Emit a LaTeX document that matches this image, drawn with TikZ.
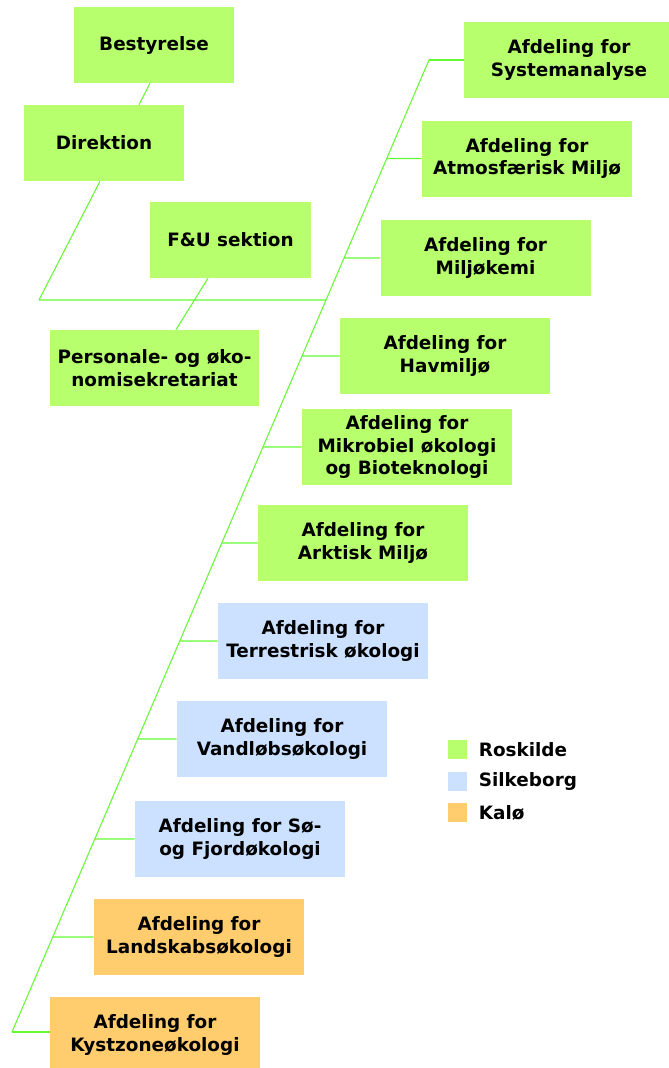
\documentclass[tikz,border=0pt]{standalone}
\usepackage{fontspec}
\setmainfont{DejaVu Sans}
\usetikzlibrary{positioning}
\usetikzlibrary{calc}

\definecolor{roskilde}{HTML}{B8FF6E}
\definecolor{silkeborg}{HTML}{CCE0FF}
\definecolor{kalo}{HTML}{FFCC6E}
\definecolor{linegreen}{HTML}{66F933}

\begin{document}
\begin{tikzpicture}[
      x = 0.75pt, y = -0.75pt,
      font = \bfseries\fontsize{13.8}{16.7}\selectfont,
      unit/.style = {
        align = center, inner sep = 0pt,
        minimum width = 157.5pt, minimum height = 57pt
      },
      narrow/.style = { minimum width = 120pt },
      ros/.style = { fill = roskilde },
      silk/.style = { fill = silkeborg },
      kal/.style = { fill = kalo },
      branch/.style = { draw = linegreen, line width = 0.8pt },
      legend/.style = { minimum size = 14.25pt, inner sep = 0pt },
    ]

    \useasboundingbox (0,0) rectangle (668,1068);

    % ledelse
    \node[unit, narrow, ros] (Best) at (154, 45) {Bestyrelse};
    \node[unit, narrow, ros] (Dir)  at (104,143) {Direktion};
    \node[unit, narrow, ros, minimum width = 120.75pt] (FU) at (230.5,240) {F\&U sektion};
    \node[unit, ros, minimum width = 156.75pt] (PO) at (154.5,368) {Personale- og øko-\\nomisekretariat};

    % afdelinger
    \node[unit, ros]  (A1)  at (569,  60) {Afdeling for\\Systemanalyse};
    \node[unit, ros]  (A2)  at (527, 158.5) {Afdeling for\\Atmosfærisk Miljø};
    \node[unit, ros]  (A3)  at (485.5,258) {Afdeling for\\Miljøkemi};
    \node[unit, ros]  (A4)  at (445, 356) {Afdeling for\\Havmiljø};
    \node[unit, ros]  (A5)  at (407, 447) {Afdeling for\\Mikrobiel økologi\\og Bioteknologi};
    \node[unit, ros]  (A6)  at (363, 543) {Afdeling for\\Arktisk Miljø};
    \node[unit, silk] (A7)  at (323, 641) {Afdeling for\\Terrestrisk økologi};
    \node[unit, silk] (A8)  at (282, 739) {Afdeling for\\Vandløbsøkologi};
    \node[unit, silk] (A9)  at (240, 839) {Afdeling for Sø-\\og Fjordøkologi};
    \node[unit, kal]  (A10) at (199, 937) {Afdeling for\\Landskabsøkologi};
    \node[unit, kal]  (A11) at (155,1035) {Afdeling for\\Kystzoneøkologi};

    % stamme
    \coordinate (T) at (429,  60);
    \coordinate (B) at ( 12,1032);
    \coordinate (H) at ( 39, 300);
    \coordinate (J) at ($(T)!{240/972}!(B)$);

    \draw[branch] (T) to (B);
    \draw[branch] (H) to (J);
    \draw[branch] ([xshift=-3pt]Dir.south) to (H);
    \draw[branch] ([xshift=-3pt]Best.south) to ([xshift=26.25pt]Dir.north);
    \draw[branch] ([xshift=-16.9pt]FU.south) to ([xshift=16.1pt]PO.north);
    \draw[branch] (T) to (A1.west);
    \draw[branch] (B) to ([yshift=2.25pt]A11.west);

    \foreach \d in {A2, A3, A4, A5, A6, A7, A8, A9, A10} {
      \draw[branch] (\d.west) to (intersection of T--B and \d.west--\d.east);
    }

    % signatur
    \node[legend, ros]  (L1) at (457.5,749.5) {};
    \node[legend, silk] (L2) at (457.5,781.5) {};
    \node[legend, kal]  (L3) at (457.5,812.5) {};
    \begin{scope}[node distance = 8.5pt]
      \node[inner sep = 0pt, right = of L1] (T1) {Roskilde};
      \node[inner sep = 0pt, right = of L2] (T2) {Silkeborg};
      \node[inner sep = 0pt, right = of L3] (T3) {Kalø};
    \end{scope}
  \end{tikzpicture}
\end{document}
